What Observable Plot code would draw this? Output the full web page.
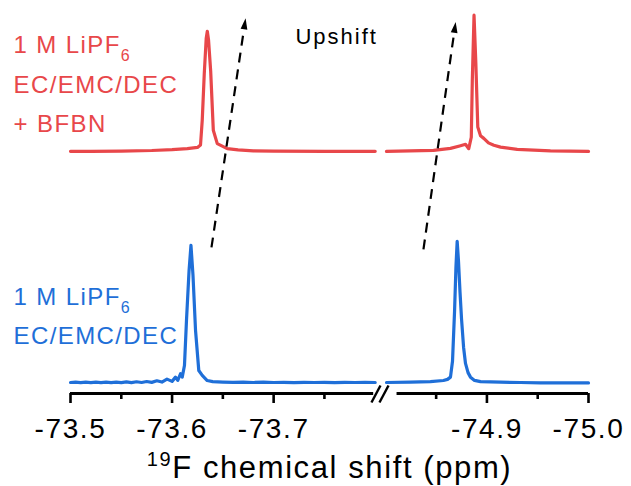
<!DOCTYPE html>
<html><head><meta charset="utf-8">
<script src="https://cdn.jsdelivr.net/npm/d3@7"></script>
<script src="https://cdn.jsdelivr.net/npm/@observablehq/plot@0.6"></script>
<style>body{margin:0;background:#fff}#chart{width:631px;height:486px}</style>
</head><body><div id="chart"></div>
<script>
// ---------------- data (ppm, normalised intensity) ----------------
const blueLeftPpm = [-73.500,-73.505,-73.510,-73.515,-73.520,-73.525,-73.530,-73.535,-73.540,-73.545,-73.550,-73.555,-73.560,-73.565,-73.570,-73.575,-73.580,-73.585,-73.590,-73.595,-73.600,
  -73.6034,-73.6056,-73.6083,-73.6100,-73.6122,-73.6142,-73.6167,-73.6186,-73.6206,-73.6231,-73.6263,-73.6297,-73.6346,-73.640,
  -73.650,-73.660,-73.670,-73.680,-73.690,-73.700,-73.710,-73.720,-73.730,-73.740,-73.750,-73.760,-73.770,-73.780,-73.790,-73.800];
const blueLeftI = [0.000,0.002,-0.001,0.002,-0.001,0.002,-0.001,0.003,-0.001,0.003,-0.001,0.004,-0.001,0.005,0.000,0.007,0.001,0.012,0.003,0.024,0.008,
  0.038,0.015,0.062,0.038,0.120,0.440,0.790,0.972,0.760,0.370,0.085,0.050,0.014,0.006,
  0.003,0.001,0.002,0.000,0.002,0.000,0.001,-0.001,0.001,0.000,0.001,-0.001,0.001,0.000,0.001,0.000];

const blueRightPpm = [-74.8011,-74.8247,-74.8444,-74.8572,-74.8612,-74.8641,-74.8661,-74.8681,-74.8695,-74.8707,-74.8720,-74.8735,-74.8750,-74.8770,-74.8789,-74.8814,-74.8838,-74.8878,-74.8937,-74.9133,-74.9330,-74.9527,-74.9724,-75.0000];
const blueRightI   = [0.000,0.002,0.006,0.014,0.022,0.038,0.150,0.500,0.820,1.000,0.860,0.640,0.450,0.250,0.135,0.070,0.038,0.015,0.006,0.002,0.000,-0.002,-0.002,-0.003];

const redLeftPpm = [-73.500,-73.520,-73.550,-73.580,-73.600,-73.615,-73.625,-73.628,-73.6297,-73.6317,-73.6336,-73.6347,-73.6359,-73.6380,-73.6406,-73.6445,-73.6543,-73.665,-73.680,-73.700,-73.750,-73.800];
const redLeftI   = [0.000,0.000,0.002,0.006,0.012,0.020,0.028,0.045,0.220,0.550,0.800,0.851,0.790,0.570,0.150,0.055,0.019,0.010,0.004,0.001,0.000,0.000];

const redRightPpm = [-74.8011,-74.8474,-74.8641,-74.8740,-74.8789,-74.8821,-74.8846,-74.8856,-74.8873,-74.8891,-74.8910,-74.8937,-74.8969,-74.9015,-74.9068,-74.9134,-74.9298,-74.9626,-75.0000];
const redRightI   = [0.000,0.007,0.021,0.040,0.050,0.019,0.100,0.500,0.965,0.620,0.172,0.110,0.092,0.060,0.043,0.030,0.014,0.004,0.000];

const majorTicks = [-73.5,-73.6,-73.7,-74.9,-75.0];
const minorTicks = [-73.55,-73.65,-73.75,-74.85,-74.95];

const labelTexts  = ["1 M LiPF6","EC/EMC/DEC","+ BFBN","1 M LiPF6","EC/EMC/DEC"];
const labelSeries = ["red","red","red","blue","blue"];
const labelY      = [2.333,2.052,1.773,0.546,0.270];
const labelPpm    = -73.4439;

// dashed "upshift" arrows: tail (ppm, I) -> head base (ppm, I), head rotation (deg)
const arrowTailPpm = [-73.6388,-74.8375];
const arrowTailI   = [0.957,0.943];
const arrowHeadPpm = [-73.6708,-74.8677];
const arrowHeadI   = [2.504,2.478];
const arrowRot     = [8.5,8.1];

const titleText = "19F chemical shift (ppm)";
const upshiftText = "Upshift";

// ---------------- layout constants ----------------
const RED = "#e8474a", BLUE = "#1f6fd8";
const RED_OFFSET = 1.638;          // vertical stacking of the red spectrum
const SHIFT = 0.99;                // axis-break shift (right segment)
const AXIS_Y = -0.078;
const toD = p => p < -74 ? p + SHIFT : p;
const fromD = d => d < -73.805 ? d - SHIFT : d;

function seg(ppm, I, name, off) {
  return ppm.map((p, i) => ({d: toD(p), v: I[i] + off, seg: name}));
}
const redData  = [...seg(redLeftPpm, redLeftI, "rl", RED_OFFSET), ...seg(redRightPpm, redRightI, "rr", RED_OFFSET)];
const blueData = [...seg(blueLeftPpm, blueLeftI, "bl", 0), ...seg(blueRightPpm, blueRightI, "br", 0)];

const labels = labelTexts.map((t, i) => ({t, x: labelPpm, y: labelY[i], c: labelSeries[i] === "red" ? RED : BLUE}));
const arrows = arrowTailPpm.map((p, i) => ({x1: toD(p), y1: arrowTailI[i], x2: toD(arrowHeadPpm[i]), y2: arrowHeadI[i], r: arrowRot[i]}));
const axisSegs = [{x1: -73.5, x2: -73.7985}, {x1: toD(-74.8115), x2: toD(-75.0)}];
const breakMarks = [{x1: -73.7963, x2: -73.8052}, {x1: -73.8042, x2: -73.8131}];

const spike = {draw(ctx, l) { ctx.moveTo(-3.4, 0); ctx.lineTo(0, -l); ctx.lineTo(3.4, 0); ctx.closePath(); }};

const chart = Plot.plot({
  width: 631, height: 486,
  marginLeft: 70, marginRight: 43, marginTop: 1, marginBottom: 93,
  x: {domain: [-73.5, -74.01], label: null},
  y: {domain: [AXIS_Y, 2.7], axis: null},
  style: {fontFamily: "'Liberation Sans', Arial, sans-serif", background: "white", color: "black"},
  marks: [
    Plot.line(redData, {x: "d", y: "v", z: "seg", stroke: RED, strokeWidth: 3.2}),
    Plot.line(blueData, {x: "d", y: "v", z: "seg", stroke: BLUE, strokeWidth: 3.2}),
    Plot.ruleY(axisSegs, {y: AXIS_Y, x1: "x1", x2: "x2", strokeWidth: 3, stroke: "black"}),
    Plot.axisX(majorTicks.map(toD), {tickSize: 10, tickPadding: 15, fontSize: 28, strokeWidth: 2.6, label: null,
      tickFormat: d => fromD(d).toFixed(1)}),
    Plot.axisX(minorTicks.map(toD), {tickSize: 6, strokeWidth: 2.6, label: null, tickFormat: () => ""}),
    Plot.link(breakMarks, {x1: "x1", x2: "x2", y1: -0.142, y2: -0.021, stroke: "black", strokeWidth: 2.4}),
    Plot.link(arrows, {x1: "x1", y1: "y1", x2: "x2", y2: "y2", stroke: "black", strokeWidth: 2.2, strokeDasharray: "10,7"}),
    Plot.vector(arrows, {x: "x2", y: "y2", rotate: "r", length: 11, anchor: "start", shape: spike, fill: "black", stroke: "none"}),
    Plot.text(labels, {x: "x", y: "y", text: "t", fill: "c", textAnchor: "start", lineAnchor: "bottom", fontSize: 24}),
    Plot.text([upshiftText], {x: -73.7215, y: 2.397, textAnchor: "start", lineAnchor: "bottom", fontSize: 22, fill: "black"}),
    Plot.text([titleText], {frameAnchor: "bottom", dy: 84, lineAnchor: "bottom", fontSize: 31, fill: "black"})
  ]
});
document.getElementById("chart").appendChild(chart);

// rich text (subscript / superscript) and letter spacing
const svg = chart.tagName.toLowerCase() === "svg" ? chart : chart.querySelector("svg");
svg.querySelectorAll("text").forEach(t => {
  if (t.textContent === "1 M LiPF6") t.innerHTML = '1 M LiPF<tspan dy="8" font-size="16">6</tspan>';
  else if (t.textContent === titleText) t.innerHTML = '<tspan dy="-12" font-size="20">19</tspan><tspan dy="12">F chemical shift (ppm)</tspan>';
});
const spacing = {"24": "1.4px", "28": "1.6px", "31": "1.6px", "22": "2px"};
svg.querySelectorAll("g[font-size]").forEach(g => {
  const s = spacing[g.getAttribute("font-size")];
  if (s) g.style.letterSpacing = s;
});
</script></body></html>
